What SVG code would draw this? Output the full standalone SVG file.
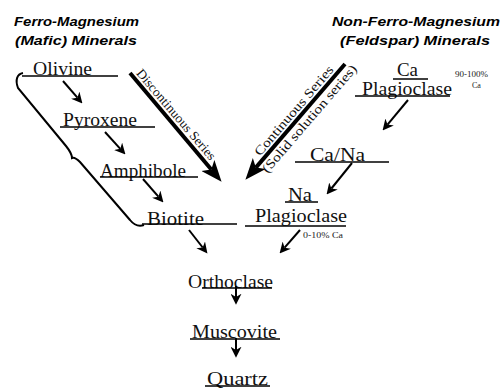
<svg xmlns="http://www.w3.org/2000/svg" width="502" height="389" viewBox="0 0 502 389">
<style>
.title{font-family:"Liberation Sans",Arial,sans-serif;font-weight:bold;font-style:italic;font-size:13px;fill:#000}
.node{font-family:"Liberation Serif","Times New Roman",serif;font-size:19px;fill:#111}
.small{font-family:"Liberation Serif","Times New Roman",serif;font-size:8px;fill:#222}
.ser{font-family:"Liberation Serif","Times New Roman",serif;font-size:13px;fill:#111}
.ul{stroke:#000;stroke-width:1.5;fill:none}
.arr{stroke:#000;stroke-width:2;fill:none;marker-end:url(#sm)}
.big{stroke:#000;stroke-width:4;fill:none;marker-end:url(#bg)}
.brace{stroke:#000;stroke-width:2;fill:none}
</style>
<defs>
<marker id="sm" viewBox="0 0 10 10" markerUnits="userSpaceOnUse" markerWidth="11" markerHeight="11" refX="3" refY="5" orient="auto">
<path d="M0,0 L10,5 L0,10 L3,5 z" fill="#000"/>
</marker>
<marker id="bg" viewBox="0 0 20 16" markerUnits="userSpaceOnUse" markerWidth="22" markerHeight="17" refX="5" refY="8" orient="auto">
<path d="M0,0 L20,8 L0,16 L5,8 z" fill="#000"/>
</marker>
</defs>
<rect width="502" height="389" fill="#fff"/>

<g id="title-left">
<text class="title" x="14" y="26" textLength="125" lengthAdjust="spacingAndGlyphs">Ferro-Magnesium</text>
<text class="title" x="15" y="45" textLength="122" lengthAdjust="spacingAndGlyphs">(Mafic)  Minerals</text>
</g>
<g id="title-right">
<text class="title" x="332" y="26" textLength="168" lengthAdjust="spacingAndGlyphs">Non-Ferro-Magnesium</text>
<text class="title" x="340" y="45" textLength="150" lengthAdjust="spacingAndGlyphs">(Feldspar)  Minerals</text>
</g>

<g id="brace">
<path class="brace" d="M23,73 C17,74 15,80 18,88 L66,146 C70,151 72,154 72,158 C74,157 76,158 80,162 L130,220 C134,225 138,227 144,225"/>
</g>

<g id="olivine">
<text class="node" x="33" y="75" textLength="59" lengthAdjust="spacingAndGlyphs">Olivine</text>
<line class="ul" x1="22" y1="76" x2="118" y2="76"/>
</g>
<g id="pyroxene">
<text class="node" x="63" y="126" textLength="74" lengthAdjust="spacingAndGlyphs">Pyroxene</text>
<line class="ul" x1="60" y1="127" x2="155" y2="127"/>
</g>
<g id="amphibole">
<text class="node" x="100" y="177" textLength="86" lengthAdjust="spacingAndGlyphs">Amphibole</text>
<line class="ul" x1="100" y1="177" x2="198" y2="177"/>
</g>
<g id="biotite">
<text class="node" x="147" y="225" textLength="57" lengthAdjust="spacingAndGlyphs">Biotite</text>
<line class="ul" x1="142" y1="224" x2="237" y2="224"/>
</g>
<g id="ca-plagioclase">
<text class="node" x="397" y="76" font-size="17" textLength="21" lengthAdjust="spacingAndGlyphs">Ca</text>
<line class="ul" x1="393" y1="79" x2="428" y2="79"/>
<text class="node" x="362" y="95" font-size="17" textLength="90" lengthAdjust="spacingAndGlyphs">Plagioclase</text>
<line class="ul" x1="355" y1="96" x2="450" y2="96"/>
<text class="small" x="455" y="77" textLength="33" lengthAdjust="spacingAndGlyphs">90-100%</text>
<text class="small" x="472" y="88">Ca</text>
</g>
<g id="ca-na">
<text class="node" x="310" y="161" textLength="55" lengthAdjust="spacingAndGlyphs">Ca/Na</text>
<line class="ul" x1="295" y1="162" x2="389" y2="162"/>
</g>
<g id="na-plagioclase">
<text class="node" x="288" y="201" textLength="24" lengthAdjust="spacingAndGlyphs">Na</text>
<line class="ul" x1="285" y1="202" x2="318" y2="202"/>
<text class="node" x="255" y="222" textLength="92" lengthAdjust="spacingAndGlyphs">Plagioclase</text>
<line class="ul" x1="245" y1="226" x2="346" y2="226"/>
<text class="small" x="303" y="238" textLength="40" lengthAdjust="spacingAndGlyphs">0-10% Ca</text>
</g>
<g id="orthoclase">
<text class="node" x="188" y="288" textLength="85" lengthAdjust="spacingAndGlyphs">Orthoclase</text>
<line class="ul" x1="202" y1="288" x2="272" y2="288"/>
</g>
<g id="muscovite">
<text class="node" x="192" y="338" textLength="85" lengthAdjust="spacingAndGlyphs">Muscovite</text>
<line class="ul" x1="190" y1="339" x2="280" y2="339"/>
</g>
<g id="quartz">
<text class="node" x="207" y="385" textLength="61" lengthAdjust="spacingAndGlyphs">Quartz</text>
<line class="ul" x1="205" y1="386" x2="270" y2="386"/>
</g>

<g id="connectors">
<line class="arr" x1="63" y1="81" x2="77.4" y2="97.7"/>
<line class="arr" x1="105" y1="132" x2="120.3" y2="148.8"/>
<line class="arr" x1="143" y1="179" x2="158.4" y2="196.7"/>
<line class="arr" x1="189" y1="230" x2="202.7" y2="247.5"/>
<line class="arr" x1="408" y1="100" x2="387.5" y2="124.6"/>
<line class="arr" x1="352" y1="163" x2="331.4" y2="188.5"/>
<line class="arr" x1="300" y1="230" x2="284.6" y2="247.7"/>
<line class="arr" x1="236" y1="286" x2="236" y2="297"/>
<line class="arr" x1="236" y1="338" x2="236" y2="350"/>
<line class="big" x1="130" y1="73" x2="211.3" y2="169.5"/>
<line class="big" x1="345" y1="64" x2="255.8" y2="167.6"/>
<g transform="translate(130,73) rotate(49.6)">
<text class="ser" x="4" y="-4" textLength="115" lengthAdjust="spacingAndGlyphs">Discontinuous Series</text>
</g>
<g transform="translate(246,179) rotate(-49.3)">
<text class="ser" x="26" y="-4" textLength="114" lengthAdjust="spacingAndGlyphs">Continuous Series</text>
<text class="ser" x="18" y="13" textLength="138" lengthAdjust="spacingAndGlyphs">(Solid solution series)</text>
</g>
</g>
</svg>
